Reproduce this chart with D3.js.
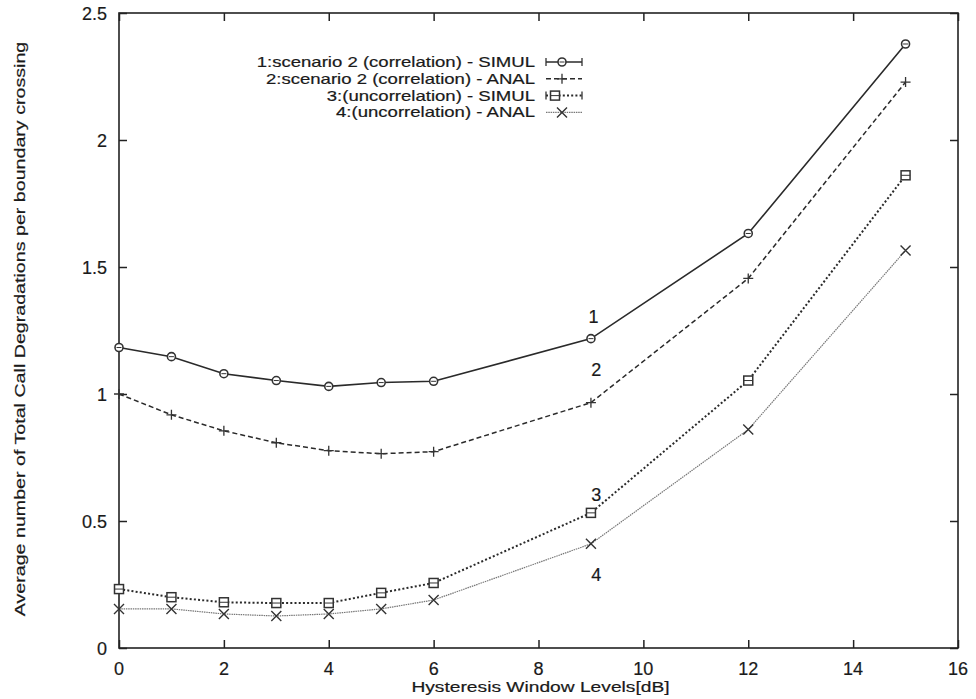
<!DOCTYPE html>
<html>
<head>
<meta charset="utf-8">
<script src="https://cdn.jsdelivr.net/npm/d3@7"></script>
<style>
  body { margin: 0; background: #fff; }
  text { font-family: "Liberation Sans", Arial, sans-serif; fill: #1a1a1a; stroke: #1a1a1a; stroke-width: 0.2; }
</style>
</head>
<body>
<div id="chart"></div>
<script>
var svgWidth = 976;
var svgHeight = 699;

var margin = { top: 13, right: 18, bottom: 51, left: 119 };
var width = svgWidth - margin.left - margin.right;
var height = svgHeight - margin.top - margin.bottom;

// data
var levels = [0, 1, 2, 3, 4, 5, 6, 9, 12, 15];
var simulCorr = [1.183, 1.147, 1.08, 1.053, 1.03, 1.045, 1.05, 1.218, 1.632, 2.378];
var analCorr = [1.0, 0.918, 0.855, 0.808, 0.777, 0.765, 0.773, 0.966, 1.455, 2.228];
var simulUncorr = [0.232, 0.2, 0.18, 0.177, 0.177, 0.217, 0.256, 0.532, 1.053, 1.861];
var analUncorr = [0.154, 0.154, 0.134, 0.126, 0.134, 0.154, 0.189, 0.41, 0.86, 1.565];

var seriesNames = [
  "1:scenario 2 (correlation) - SIMUL",
  "2:scenario 2 (correlation) - ANAL",
  "3:(uncorrelation) - SIMUL",
  "4:(uncorrelation) - ANAL"
];
var xTicks = [0, 2, 4, 6, 8, 10, 12, 14, 16];
var yTicks = [0, 0.5, 1, 1.5, 2, 2.5];
var yTickLabels = ["0", "0.5", "1", "1.5", "2", "2.5"];

// curve numbers placed near x = 9
var curveLabels = ["1", "2", "3", "4"];
var curveLabelX = [9.05, 9.1, 9.1, 9.1];
var curveLabelY = [1.28, 1.07, 0.58, 0.265];

var styles = [
  { stroke: "#2a2a2a", width: 1.6, dash: null, marker: "circle" },
  { stroke: "#2a2a2a", width: 1.5, dash: "5,3", marker: "plus" },
  { stroke: "#2a2a2a", width: 2, dash: "2,2.2", marker: "square" },
  { stroke: "#777", width: 1.2, dash: "1.5,0.8", marker: "cross" }
];
var allSeries = [simulCorr, analCorr, simulUncorr, analUncorr];

var svg = d3.select("#chart")
  .append("svg")
  .attr("width", svgWidth)
  .attr("height", svgHeight);

var chartGroup = svg.append("g")
  .attr("transform", `translate(${margin.left}, ${margin.top})`);

var xScale = d3.scaleLinear().domain([0, 16]).range([0, width]);
var yScale = d3.scaleLinear().domain([0, 2.5]).range([height, 0]);

// the scanned titles are wide, so those are stretched sideways
function addText(g, x, y, str, anchor, size, stretch, rotate) {
  return g.append("text")
    .attr("transform", `translate(${x},${y})` + (rotate ? " rotate(-90)" : "") + ` scale(${stretch},1)`)
    .attr("text-anchor", anchor)
    .attr("font-size", size)
    .text(str);
}

// frame
chartGroup.append("rect")
  .attr("width", width)
  .attr("height", height)
  .attr("fill", "none")
  .attr("stroke", "#222")
  .attr("stroke-width", 1.6);

// inward ticks on all four sides
var bottomAxis = d3.axisBottom(xScale).tickValues(xTicks).tickSize(-8).tickFormat("");
var topAxis = d3.axisTop(xScale).tickValues(xTicks).tickSize(-8).tickFormat("");
var leftAxis = d3.axisLeft(yScale).tickValues(yTicks).tickSize(-8).tickFormat("");
var rightAxis = d3.axisRight(yScale).tickValues(yTicks).tickSize(-8).tickFormat("");

chartGroup.append("g").attr("transform", `translate(0,${height})`).call(bottomAxis);
chartGroup.append("g").call(topAxis);
chartGroup.append("g").call(leftAxis);
chartGroup.append("g").attr("transform", `translate(${width},0)`).call(rightAxis);

chartGroup.selectAll(".domain").remove();
chartGroup.selectAll(".tick line").attr("stroke", "#222").attr("stroke-width", 1.5);

// tick labels
xTicks.forEach(function(t) {
  addText(chartGroup, xScale(t), height + 27, t, "middle", 18, 1);
});
yTicks.forEach(function(t, i) {
  addText(chartGroup, -12, yScale(t) + 7, yTickLabels[i], "end", 18, 1);
});

// axis titles
addText(chartGroup, xScale(8) + 2, height + 44, "Hysteresis Window Levels[dB]", "middle", 15.5, 1.24);
addText(chartGroup, -94, height / 2 - 1.5, "Average number of Total Call Degradations per boundary crossing", "middle", 15, 1.31, true);

// markers
function drawMarker(g, type, x, y, color) {
  if (type === "circle") {
    g.append("circle").attr("cx", x).attr("cy", y).attr("r", 4)
      .attr("fill", "#fff").attr("stroke", color).attr("stroke-width", 1.6);
    g.append("line").attr("x1", x - 2.5).attr("x2", x + 2.5).attr("y1", y).attr("y2", y)
      .attr("stroke", color).attr("stroke-width", 1);
  } else if (type === "square") {
    g.append("rect").attr("x", x - 4.5).attr("y", y - 4.5).attr("width", 9).attr("height", 9)
      .attr("fill", "#fff").attr("stroke", color).attr("stroke-width", 1.5);
    g.append("line").attr("x1", x - 4.5).attr("x2", x + 4.5).attr("y1", y).attr("y2", y)
      .attr("stroke", color).attr("stroke-width", 1);
  } else if (type === "plus") {
    g.append("path").attr("d", `M${x - 5},${y}H${x + 5}M${x},${y - 5}V${y + 5}`)
      .attr("stroke", color).attr("stroke-width", 1.3);
  } else {
    g.append("path").attr("d", `M${x - 5},${y - 5}L${x + 5},${y + 5}M${x - 5},${y + 5}L${x + 5},${y - 5}`)
      .attr("stroke", "#333").attr("stroke-width", 1.4);
  }
}

var line = d3.line()
  .x(d => xScale(d[0]))
  .y(d => yScale(d[1]));

allSeries.forEach(function(vals, s) {
  var pts = levels.map((lv, i) => [lv, vals[i]]);
  var st = styles[s];
  chartGroup.append("path")
    .datum(pts)
    .attr("d", line)
    .attr("fill", "none")
    .attr("stroke", st.stroke)
    .attr("stroke-width", st.width)
    .attr("stroke-dasharray", st.dash);
  var mg = chartGroup.append("g");
  pts.forEach(function(p) {
    drawMarker(mg, st.marker, xScale(p[0]), yScale(p[1]), "#333");
  });
});

// curve numbers
curveLabels.forEach(function(c, i) {
  addText(chartGroup, xScale(curveLabelX[i]), yScale(curveLabelY[i]), c, "middle", 18, 1);
});

// legend
var legend = svg.append("g");
var legendRight = 535;
seriesNames.forEach(function(name, i) {
  var y = 67 + i * 16.8;
  var st = styles[i];
  addText(legend, legendRight, y, name, "end", 14.5, 1.28);
  var ly = y - 5;
  var x0 = legendRight + 11, x1 = legendRight + 47;
  legend.append("line")
    .attr("x1", x0).attr("x2", x1).attr("y1", ly).attr("y2", ly)
    .attr("stroke", st.stroke).attr("stroke-width", st.width)
    .attr("stroke-dasharray", st.dash);
  if (i === 0 || i === 2) {
    legend.append("path")
      .attr("d", `M${x0},${ly - 4}V${ly + 4}M${x1},${ly - 4}V${ly + 4}`)
      .attr("stroke", "#333").attr("stroke-width", 1.3);
  }
  var mx = i === 2 ? x0 + 9 : (x0 + x1) / 2 - 2;
  drawMarker(legend, st.marker, mx, ly, "#333");
});
</script>
</body>
</html>
